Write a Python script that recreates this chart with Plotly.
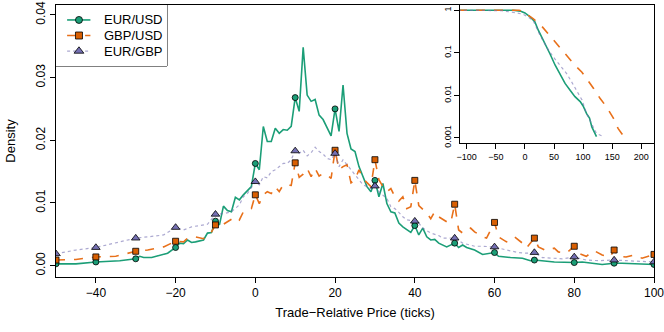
import plotly.graph_objects as go

# main panel: density of trade-relative price (ticks)
eurusd_t = [-50, -45, -40, -34, -30, -29, -28, -26, -22, -20, -19, -18, -17, -16, -15, -13, -12, -11,
            -10, -9, -8, -7, -6, -5, -4, -3, -1, 0, 1, 2, 3, 4, 5, 6, 7, 8, 9, 10, 11, 12, 13, 14,
            15, 16, 17, 19, 20, 21, 22, 23, 24, 25, 26, 27, 28, 29, 30, 31, 32, 33, 34, 35, 36, 37,
            38, 39, 40, 41, 42, 43, 44, 45, 46, 48, 50, 51, 52, 53, 55, 57, 60, 61, 64, 67, 69, 70,
            75, 80, 82, 87, 90, 92, 100]
eurusd_d = [0.0003, 0.0003, 0.0006, 0.0008, 0.0011, 0.0015, 0.0013, 0.0013, 0.0020, 0.0029, 0.0036,
            0.0035, 0.0041, 0.0037, 0.0038, 0.0041, 0.0052, 0.0053, 0.0071, 0.0065, 0.0095, 0.0088,
            0.0086, 0.0109, 0.0105, 0.0113, 0.0126, 0.0163, 0.0153, 0.0222, 0.0198, 0.0198, 0.0219,
            0.0211, 0.0217, 0.0216, 0.0222, 0.0268, 0.0246, 0.0348, 0.0272, 0.0262, 0.0265, 0.0240,
            0.0233, 0.0207, 0.0250, 0.0214, 0.0288, 0.0211, 0.0186, 0.0182, 0.0158, 0.0142, 0.0126,
            0.0118, 0.0136, 0.0110, 0.0131, 0.0099, 0.0086, 0.0084, 0.0068, 0.0062, 0.0057, 0.0053,
            0.0064, 0.0049, 0.0060, 0.0046, 0.0041, 0.0042, 0.0036, 0.0030, 0.0036, 0.0029, 0.0033,
            0.0029, 0.0025, 0.0018, 0.0021, 0.0015, 0.0013, 0.0012, 0.0008, 0.0009, 0.0006, 0.0005,
            0.0006, 0.0002, 0.0004, 0.0004, 0.0002]

gbpusd_t = [-50, -45, -40, -35, -30, -27, -23, -20, -18, -17, -15, -13, -12, -11, -10, -9, -7, -5,
            -4, -3, -1, 0, 1, 2, 3, 4, 5, 6, 7, 9, 10, 11, 12, 13, 14, 15, 16, 17, 18, 19, 20, 21,
            22, 23, 24, 25, 26, 27, 29, 30, 31, 32, 33, 34, 35, 36, 37, 38, 39, 40, 41, 42, 43, 44,
            45, 46, 48, 49, 50, 51, 52, 54, 55, 57, 58, 60, 61, 63, 65, 67, 68, 70, 71, 73, 75, 76,
            78, 80, 81, 83, 85, 87, 89, 90, 91, 93, 95, 97, 100]
gbpusd_d = [0.0009, 0.0010, 0.0014, 0.0015, 0.0023, 0.0025, 0.0030, 0.0039, 0.0038, 0.0044, 0.0046,
            0.0043, 0.0050, 0.0054, 0.0065, 0.0062, 0.0070, 0.0078, 0.0073, 0.0086, 0.0091, 0.0113,
            0.0099, 0.0113, 0.0118, 0.0115, 0.0126, 0.0118, 0.0129, 0.0128, 0.0164, 0.0141, 0.0146,
            0.0155, 0.0142, 0.0155, 0.0143, 0.0147, 0.0145, 0.0139, 0.0184, 0.0153, 0.0158, 0.0161,
            0.0132, 0.0137, 0.0153, 0.0139, 0.0126, 0.0169, 0.0137, 0.0126, 0.0118, 0.0123, 0.0110,
            0.0103, 0.0110, 0.0091, 0.0094, 0.0136, 0.0096, 0.0090, 0.0084, 0.0075, 0.0086, 0.0078,
            0.0070, 0.0068, 0.0098, 0.0057, 0.0052, 0.0060, 0.0054, 0.0046, 0.0044, 0.0069, 0.0046,
            0.0038, 0.0046, 0.0036, 0.0028, 0.0044, 0.0030, 0.0024, 0.0028, 0.0022, 0.0020, 0.0031,
            0.0020, 0.0015, 0.0024, 0.0017, 0.0014, 0.0025, 0.0015, 0.0014, 0.0017, 0.0012, 0.0018]

eurgbp_t = [-50, -45, -40, -35, -30, -27, -23, -20, -18, -16, -13, -12, -10, -8, -6, -4, -3, -2, 0,
            1, 2, 3, 4, 5, 7, 8, 9, 10, 11, 12, 13, 14, 15, 16, 17, 18, 19, 20, 21, 22, 24, 25, 26,
            27, 29, 30, 31, 33, 34, 35, 36, 37, 38, 40, 41, 42, 44, 46, 47, 50, 52, 55, 57, 60, 63,
            66, 68, 70, 72, 75, 77, 80, 83, 86, 90, 93, 98, 100]
eurgbp_d = [0.0019, 0.0025, 0.0029, 0.0037, 0.0044, 0.0046, 0.0049, 0.0061, 0.0057, 0.0062, 0.0065,
            0.0066, 0.0082, 0.0083, 0.0086, 0.0097, 0.0110, 0.0115, 0.0134, 0.0129, 0.0142, 0.0140,
            0.0150, 0.0153, 0.0163, 0.0163, 0.0169, 0.0183, 0.0179, 0.0184, 0.0175, 0.0180, 0.0189,
            0.0182, 0.0178, 0.0171, 0.0169, 0.0179, 0.0158, 0.0169, 0.0153, 0.0145, 0.0137, 0.0129,
            0.0123, 0.0127, 0.0118, 0.0107, 0.0094, 0.0091, 0.0085, 0.0078, 0.0073, 0.0071, 0.0068,
            0.0060, 0.0052, 0.0048, 0.0044, 0.0044, 0.0036, 0.0031, 0.0031, 0.0030, 0.0025, 0.0021,
            0.0020, 0.0021, 0.0013, 0.0012, 0.0011, 0.0014, 0.0009, 0.0008, 0.0009, 0.0008, 0.0007,
            0.0006]

# inset: tail probability, log scale
eurusd_tail_t = [-115, -20, -8, 0, 9, 17, 23, 29, 35, 43, 52, 60, 69, 78, 86, 95, 100, 106, 111, 115, 119, 123]
eurusd_tail_p = [1, 1, 0.955, 0.865, 0.70, 0.54, 0.34, 0.234, 0.151, 0.095, 0.051, 0.032, 0.019,
                 0.0129, 0.0093, 0.0071, 0.0056, 0.0037, 0.0029, 0.0018, 0.0014, 0.00107]
gbpusd_tail_t = [-115, -10, 0, 6, 14, 29, 40, 52, 63, 75, 86, 98, 106, 118, 129, 140, 152, 160, 170]
gbpusd_tail_p = [1, 1, 0.93, 0.76, 0.64, 0.42, 0.28, 0.18, 0.12, 0.079, 0.051, 0.035, 0.025,
                 0.0145, 0.0085, 0.0054, 0.0029, 0.00166, 0.00107]
eurgbp_tail_t = [-115, -40, -14, -3, 6, 14, 26, 37, 49, 60, 72, 80, 89, 98, 106, 115, 123, 135]
eurgbp_tail_p = [1, 0.98, 0.865, 0.805, 0.68, 0.58, 0.257, 0.138, 0.079, 0.051, 0.032, 0.021,
                 0.0132, 0.0078, 0.0037, 0.002, 0.00126, 0.00107]

names = ["EUR/USD", "GBP/USD", "EUR/GBP"]
colors = ["#1B9E77", "#D95F02", "#7570B3"]
line_colors = ["#1B9E77", "#E8701A", "rgba(117,112,179,0.6)"]
dashes = ["solid", "dash", "dot"]
symbols = ["circle", "square", "triangle-up"]
msizes = [6, 6, 7.5]
widths = [1.6, 1.6, 1.2]

series = [(eurusd_t, eurusd_d), (gbpusd_t, gbpusd_d), (eurgbp_t, eurgbp_d)]
tails = [(eurusd_tail_t, eurusd_tail_p), (gbpusd_tail_t, gbpusd_tail_p), (eurgbp_tail_t, eurgbp_tail_p)]

FONT = "Liberation Sans, Arial, Helvetica, sans-serif"

fig = go.Figure()
for i, (t, d) in enumerate(series):
    fig.add_trace(go.Scatter(x=t, y=d, mode="lines", showlegend=False,
                             line=dict(color=line_colors[i], width=widths[i], dash=dashes[i])))
    mx = [a for a in t if a % 10 == 0]
    my = [b for a, b in zip(t, d) if a % 10 == 0]
    fig.add_trace(go.Scatter(x=mx, y=my, mode="markers", showlegend=False,
                             marker=dict(color=colors[i], symbol=symbols[i], size=msizes[i],
                                         line=dict(color="black", width=0.8))))

for i, (t, p) in enumerate(tails):
    fig.add_trace(go.Scatter(x=t, y=p, mode="lines", showlegend=False, xaxis="x2", yaxis="y2",
                             line=dict(color=line_colors[i], width=widths[i], dash=dashes[i])))

# R-style legend box: keys drawn on a small helper axis (0..1 both ways) over the box
key_rows = [0.755, 0.5, 0.245]
for i in range(3):
    fig.add_trace(go.Scatter(x=[0.1, 0.207, 0.31], y=[key_rows[i]] * 3, mode="lines", showlegend=False,
                             xaxis="x3", yaxis="y3", hoverinfo="skip",
                             line=dict(color=line_colors[i], width=widths[i], dash=dashes[i])))
    fig.add_trace(go.Scatter(x=[0.207], y=[key_rows[i]], mode="markers", showlegend=False,
                             xaxis="x3", yaxis="y3", hoverinfo="skip",
                             marker=dict(color=colors[i], symbol=symbols[i], size=msizes[i] + 1,
                                         line=dict(color="black", width=0.8))))
    fig.add_annotation(x=0.41, y=key_rows[i], xref="x3", yref="y3", text=names[i], showarrow=False,
                       xanchor="left", yanchor="middle", font=dict(size=13))

axis_common = dict(showline=True, linecolor="black", linewidth=1, mirror=True, ticks="outside",
                   ticklen=5, tickcolor="black", showgrid=False, zeroline=False, automargin=False)
hidden = dict(visible=False, range=[0, 1], fixedrange=True)

leg_x = [0, 0.1856]
leg_y = [0.7757, 1.0]

fig.add_shape(type="rect", xref="paper", yref="paper", x0=leg_x[0], x1=leg_x[1], y0=leg_y[0], y1=leg_y[1],
              line=dict(color="black", width=1), fillcolor="white", layer="below")

fig.update_layout(
    width=664, height=332,
    margin=dict(l=56, r=10, t=5, b=55),
    paper_bgcolor="white", plot_bgcolor="white",
    font=dict(family=FONT, size=12, color="black"),
    showlegend=False,
    xaxis=dict(range=[-50, 100.001], tickvals=[-40, -20, 0, 20, 40, 60, 80, 100],
               ticklabeloverflow="allow",
               title=dict(text="Trade\u2212Relative Price (ticks)", standoff=8, font=dict(size=13)),
               domain=[0, 1], **axis_common),
    yaxis=dict(range=[-0.0018, 0.04156], tickvals=[0, 0.01, 0.02, 0.03, 0.04], tickformat=".2f",
               tickangle=-90, title=dict(text="Density", font=dict(size=13)), domain=[0, 1],
               **axis_common),
    xaxis2=dict(anchor="y2", domain=[0.6756, 1.0], range=[-111.5, 221.8],
                tickvals=[-100, -50, 0, 50, 100, 150, 200], tickfont=dict(size=9),
                ticklabeloverflow="allow", **axis_common),
    yaxis2=dict(anchor="x2", domain=[0.4915, 1.0], type="log", range=[-3.13, 0.124],
                tickvals=[1, 0.1, 0.01, 0.001], ticktext=["1", "0.1", "0.01", "0.001"],
                tickangle=-90, tickfont=dict(size=9), ticklabelstandoff=-1, **axis_common),
    xaxis3=dict(anchor="y3", domain=leg_x, **hidden),
    yaxis3=dict(anchor="x3", domain=leg_y, **hidden),
)

# the page body has a default 8px margin; drop it so the figure sits at the window corner
fig.write_html("out.html", config={"displayModeBar": False},
               post_script="document.body.style.margin='0';")
